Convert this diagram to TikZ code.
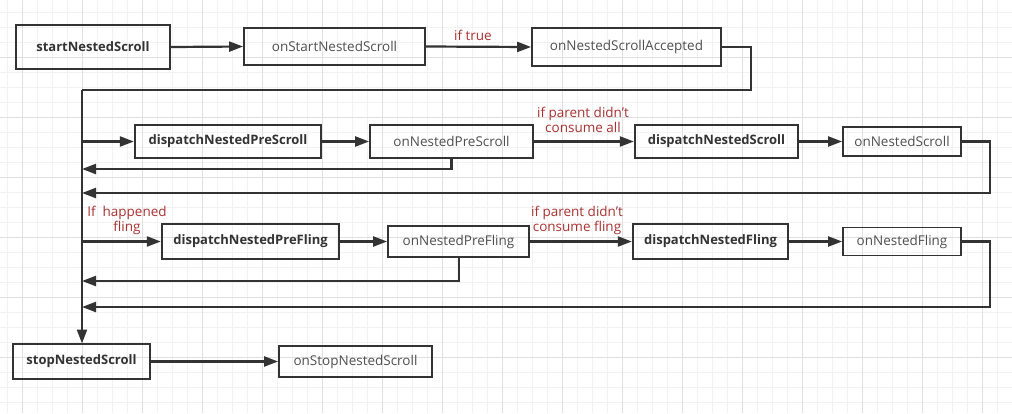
\documentclass[tikz,border=0pt]{standalone}
\usepackage{fontspec}
\setmainfont{Open Sans}
\usetikzlibrary{arrows.meta}
\definecolor{ln}{HTML}{333333}
\definecolor{tx}{HTML}{505050}
\definecolor{lab}{HTML}{A83232}
\definecolor{gmin}{HTML}{F2F2F2}
\definecolor{gmaj}{HTML}{E0E0E0}
\tikzset{
  fn/.style={draw=ln, line width=1.8pt, rectangle, inner sep=0pt, text=tx, font=\fontsize{13.5}{15}\selectfont},
  fb/.style={draw=ln, line width=2.3pt, rectangle, inner sep=0pt, text=ln, font=\bfseries\fontsize{13}{15}\selectfont},
  conn/.style={draw=ln, line width=2.2pt},
  arr/.style={conn, -{Triangle[length=14pt,width=10pt]}},
  lbl/.style={text=lab, font=\fontsize{13.5}{15.5}\selectfont, align=center, inner sep=0pt}
}
\begin{document}
\begin{tikzpicture}[x=1pt,y=-1pt]
\useasboundingbox (0,0) rectangle (1012,413);
\fill[white] (0,0) rectangle (1012,413);
% grid
\foreach \x in {7,22,...,1012} \draw[gmin, line width=0.8pt] (\x,0) -- (\x,413);
\foreach \y in {12,27,...,413} \draw[gmin, line width=0.8pt] (0,\y) -- (1012,\y);
\foreach \x in {22,82,...,1012} \draw[gmaj, line width=0.8pt] (\x,0) -- (\x,413);
\foreach \y in {-3,57,...,413} \draw[gmaj, line width=0.8pt] (0,\y) -- (1012,\y);

% nodes
\node[fb, minimum width=154, minimum height=44] (start) at (93,47) {startNestedScroll};
\node[fn, minimum width=181, minimum height=37] (ostart) at (334.5,46.5) {onStartNestedScroll};
\node[fn, minimum width=189, minimum height=38] (acc) at (626.5,47) {onNestedScrollAccepted};

\node[fb, minimum width=186, minimum height=33] (dps) at (228,141.5) {dispatchNestedPreScroll};
\node[fn, minimum width=163, minimum height=33] (ops) at (451.5,141.5) {onNestedPreScroll};
\node[fb, minimum width=163, minimum height=33] (dns) at (716.5,141.5) {dispatchNestedScroll};
\node[fn, minimum width=118, minimum height=29] (ons) at (902,141.5) {onNestedScroll};

\node[fb, minimum width=177, minimum height=35] (dpf) at (250.5,241.5) {dispatchNestedPreFling};
\node[fn, minimum width=141, minimum height=31] (opf) at (458.5,241.5) {onNestedPreFling};
\node[fb, minimum width=155, minimum height=35] (dnf) at (710.5,241.5) {dispatchNestedFling};
\node[fn, minimum width=118, minimum height=28] (onf) at (902,241.5) {onNestedFling};

\node[fb, minimum width=137, minimum height=35] (stop) at (81.5,361.5) {stopNestedScroll};
\node[fn, minimum width=153, minimum height=31] (ostop) at (355.5,361.5) {onStopNestedScroll};

% labels
\node[lbl] (l1) at (473,35) {if true};
\node[lbl] (l2) at (583,120) {if parent didn't\\consume all};
\node[lbl] (l3) at (577,220.5) {if parent didn't\\consume fling};
\node[lbl] (l4) at (127,220.5) {If\ \ happened\\fling};

% coordinates
\coordinate (trA) at (751,47);
\coordinate (trB) at (751,90);
\coordinate (tl) at (82,90);
\coordinate (r2a) at (451.5,169);
\coordinate (r2b) at (82,169);
\coordinate (r2c) at (990,141.5);
\coordinate (r2d) at (990,193);
\coordinate (r2e) at (82,193);
\coordinate (r3a) at (459,281);
\coordinate (r3b) at (82,281);
\coordinate (r3c) at (990,241.5);
\coordinate (r3d) at (990,307);
\coordinate (r3e) at (82,307);
\coordinate (m2) at (82,141.5);
\coordinate (m3) at (82,241.5);
\coordinate (mbot) at (82,343.5);

% connectors
\draw[arr] (start.east) -- (ostart.west);
\draw[arr] (ostart.east) -- (acc.west);
\draw[conn] (acc.east) -- (trA) -- (trB) -- (tl);
\draw[arr] (tl) -- (mbot);

\draw[arr] (m2) -- (dps.west);
\draw[arr] (dps.east) -- (ops.west);
\draw[arr] (ops.south -| r2a) -- (r2a) -- (r2b);
\draw[arr] (ops.east) -- (dns.west);
\draw[arr] (dns.east) -- (ons.west);
\draw[arr] (ons.east) -- (r2c) -- (r2d) -- (r2e);

\draw[arr] (m3) -- (dpf.west);
\draw[arr] (dpf.east) -- (opf.west);
\draw[arr] (opf.south -| r3a) -- (r3a) -- (r3b);
\draw[arr] (opf.east) -- (dnf.west);
\draw[arr] (dnf.east) -- (onf.west);
\draw[arr] (onf.east) -- (r3c) -- (r3d) -- (r3e);

\draw[arr] (stop.east) -- (ostop.west);
\end{tikzpicture}
\end{document}
